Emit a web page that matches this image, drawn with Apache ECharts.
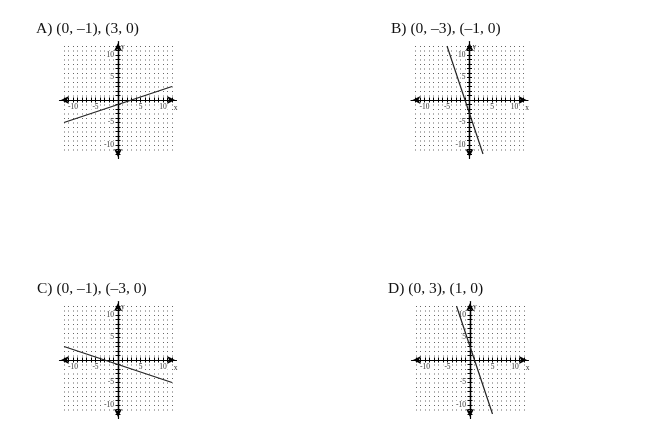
<!DOCTYPE html>
<html>
<head>
<meta charset="utf-8">
<script src="https://cdn.jsdelivr.net/npm/echarts@6/dist/echarts.min.js"></script>
<style>
  html, body { margin: 0; padding: 0; background: #fff; }
  #chart { width: 650px; height: 440px; }
</style>
</head>
<body>
<div id="chart"></div>
<script>
// answer choices, one per panel
const panelTitles = ['A) (0, \u20131), (3, 0)', 'B) (0, \u20133), (\u20131, 0)', 'C) (0, \u20131), (\u20133, 0)', 'D) (0, 3), (1, 0)'];

// line ends
const lineA = [[-12, -5], [12, 3]];
const lineB = [[-5, 12], [3, -12]];
const lineC = [[-12, 3], [12, -5]];
const lineD = [[-3, 12], [5, -12]];
const panelLines = [lineA, lineB, lineC, lineD];

const tickLabels = [-10, -5, 5, 10];
const gridRange = 12;   // dotted lattice
const axisRange = 13;   // axis lines with arrows

// layout (pixels)
const origins = [[118, 100], [469.5, 100], [118, 360], [470, 360]];
const titlePos = [[36, 21], [391, 21], [37, 281], [388, 281]];
const unit = 4.5;

const serif = 'Liberation Serif';

function labelFmt(v) {
    return tickLabels.includes(v) ? String(v) : '';
}

const option = {
    animation: false,
    title: [],
    grid: [],
    xAxis: [],
    yAxis: [],
    series: []
};

panelTitles.forEach(function (t, i) {
    option.title.push({
        text: t,
        left: titlePos[i][0],
        top: titlePos[i][1],
        padding: 0,
        textStyle: { fontFamily: serif, fontSize: 15.5, fontWeight: 'normal', color: '#111' }
    });
});

origins.forEach(function (o, p) {
    const ox = o[0], oy = o[1];
    const half = gridRange * unit;
    const halfA = axisRange * unit;

    // grid with the dots, ticks, labels and the line
    const g0 = option.grid.length;
    option.grid.push({ left: ox - half, top: oy - half, width: 2 * half, height: 2 * half, containLabel: false });
    // grid with the long axis lines and arrows
    const g1 = option.grid.length;
    option.grid.push({ left: ox - halfA, top: oy - halfA, width: 2 * halfA, height: 2 * halfA, containLabel: false });

    const tickStyle = { show: true, length: 2.5, lineStyle: { color: '#000', width: 1 } };
    const lineStyle = { onZero: false, lineStyle: { color: '#000', width: 1.2 } };
    const labelStyle = { fontFamily: serif, fontSize: 7.5, color: '#333', backgroundColor: '#fff', padding: [0, 1] };

    // axes are pushed into the middle of the grid with a negative offset
    const xMain = option.xAxis.length;
    option.xAxis.push({
        gridIndex: g0, type: 'value', position: 'bottom', offset: -half,
        min: -gridRange, max: gridRange, interval: 1,
        axisLine: lineStyle,
        axisTick: tickStyle,
        axisLabel: Object.assign({ show: true, interval: 0, margin: 3, formatter: labelFmt }, labelStyle),
        splitLine: { show: true, lineStyle: { color: '#666', width: 1, type: [1, unit - 1] } }
    });
    option.xAxis.push({
        gridIndex: g0, type: 'value', position: 'top', offset: -half,
        min: -gridRange, max: gridRange, interval: 1,
        axisLine: lineStyle,
        axisTick: tickStyle,
        axisLabel: { show: false },
        splitLine: { show: false }
    });
    const yMain = option.yAxis.length;
    option.yAxis.push({
        gridIndex: g0, type: 'value', position: 'left', offset: -half,
        min: -gridRange, max: gridRange, interval: 1,
        axisLine: lineStyle,
        axisTick: tickStyle,
        axisLabel: Object.assign({ show: true, interval: 0, margin: 3, formatter: labelFmt }, labelStyle),
        splitLine: { show: false }
    });
    option.yAxis.push({
        gridIndex: g0, type: 'value', position: 'right', offset: -half,
        min: -gridRange, max: gridRange, interval: 1,
        axisLine: lineStyle,
        axisTick: tickStyle,
        axisLabel: { show: false },
        splitLine: { show: false }
    });

    // long axes with arrows and the x / y names
    option.xAxis.push({
        gridIndex: g1, type: 'value', position: 'bottom', offset: -halfA,
        min: -axisRange, max: axisRange, interval: 1,
        name: 'x', nameLocation: 'end', nameGap: -1,
        nameTextStyle: { fontFamily: serif, fontSize: 7.5, color: '#333', align: 'center', verticalAlign: 'top', padding: [4, 0, 0, 0] },
        axisLine: { onZero: false, symbol: ['arrow', 'arrow'], symbolSize: [6, 8], symbolOffset: [1.5, -1.5], lineStyle: { color: '#000', width: 1.2 } },
        axisTick: { show: false }, axisLabel: { show: false }, splitLine: { show: false }
    });
    option.yAxis.push({
        gridIndex: g1, type: 'value', position: 'left', offset: -halfA,
        min: -axisRange, max: axisRange, interval: 1,
        name: 'y', nameLocation: 'end', nameGap: -2,
        nameTextStyle: { fontFamily: serif, fontSize: 7.5, color: '#333', align: 'left', verticalAlign: 'top', padding: [0, 0, 0, 3] },
        axisLine: { onZero: false, symbol: ['arrow', 'arrow'], symbolSize: [6, 8], symbolOffset: [1.5, -1.5], lineStyle: { color: '#000', width: 1.2 } },
        axisTick: { show: false }, axisLabel: { show: false }, splitLine: { show: false }
    });

    option.series.push({
        type: 'line',
        xAxisIndex: xMain,
        yAxisIndex: yMain,
        data: panelLines[p],
        showSymbol: false,
        silent: true,
        z: 5,
        lineStyle: { color: '#222', width: 1.2 }
    });
});

const chart = echarts.init(document.getElementById('chart'));
chart.setOption(option);
</script>
</body>
</html>
